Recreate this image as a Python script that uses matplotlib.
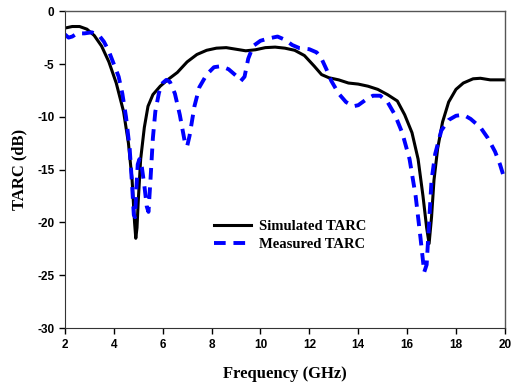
import matplotlib
matplotlib.use('Agg')
import matplotlib.pyplot as plt

plt.rcParams['axes.unicode_minus'] = False

# Simulated TARC
f_sim = [2.0, 2.3, 2.6, 2.9, 3.2, 3.5, 3.8, 4.1, 4.4, 4.6, 4.75, 4.85, 4.9, 4.95, 5.0,
         5.1, 5.25, 5.4, 5.6, 5.9, 6.2, 6.6, 7.0, 7.4, 7.8, 8.2, 8.6, 9.0, 9.4, 9.8,
         10.2, 10.6, 11.0, 11.4, 11.8, 12.2, 12.5, 12.8, 13.2, 13.6, 14.0, 14.4, 14.8,
         15.2, 15.6, 15.9, 16.2, 16.45, 16.65, 16.8, 16.9, 17.0, 17.1, 17.25, 17.45,
         17.7, 18.0, 18.3, 18.7, 19.0, 19.4, 19.8, 20.0]
tarc_sim = [-1.6, -1.45, -1.45, -1.7, -2.3, -3.3, -4.8, -6.8, -9.5, -12.5, -16, -20, -21.5, -20.5, -18,
            -14, -11, -9, -7.9, -7.1, -6.5, -5.8, -4.8, -4.1, -3.7, -3.5, -3.45, -3.6, -3.75, -3.65,
            -3.45, -3.4, -3.5, -3.7, -4.2, -5.2, -6.0, -6.3, -6.5, -6.8, -6.9, -7.1, -7.4,
            -7.9, -8.5, -9.8, -11.5, -14, -17.5, -20.5, -22, -19.5, -16, -13, -10.5,
            -8.6, -7.4, -6.8, -6.4, -6.35, -6.5, -6.5, -6.5]

# Measured TARC
f_meas = [2.0, 2.15, 2.3, 2.5, 2.8, 3.1, 3.4, 3.6, 3.8, 4.0, 4.2, 4.35, 4.5, 4.65, 4.75,
          4.82, 4.87, 4.92, 4.98, 5.05, 5.15, 5.25, 5.35, 5.42, 5.5, 5.6, 5.7, 5.85, 6.0,
          6.15, 6.3, 6.5, 6.7, 6.9, 7.0, 7.1, 7.3, 7.5, 7.8, 8.1, 8.4, 8.7, 9.0, 9.2,
          9.35, 9.5, 9.7, 10.0, 10.3, 10.7, 11.0, 11.3, 11.6, 12.0, 12.3, 12.5, 12.7,
          12.9, 13.2, 13.5, 13.8, 14.0, 14.3, 14.6, 14.9, 15.2, 15.5, 15.8, 16.1, 16.35,
          16.55, 16.7, 16.8, 16.9, 17.0, 17.15, 17.4, 17.7, 18.0, 18.3, 18.6, 19.0, 19.3,
          19.6, 19.8, 20.0]
tarc_meas = [-2.2, -2.5, -2.4, -2.1, -2.1, -2.0, -2.3, -2.9, -3.8, -5.0, -6.2, -7.8, -10, -13, -16.5,
             -19.3, -19.5, -17, -14.5, -14.0, -14.8, -16.5, -18.5, -19.0, -16, -12, -9.5, -7.7, -6.8,
             -6.5, -6.7, -7.8, -9.8, -12.3, -12.8, -11.8, -9.0, -7.2, -6.0, -5.3, -5.2, -5.5, -6.1, -6.6,
             -6.2, -4.5, -3.3, -2.8, -2.6, -2.4, -2.7, -3.2, -3.5, -3.6, -3.9, -4.5, -5.5,
             -6.6, -7.8, -8.6, -9.0, -8.9, -8.4, -8.0, -8.0, -8.6, -9.8, -11.5, -14, -17.5,
             -21.5, -24.7, -24, -20, -16, -13.5, -11.3, -10.3, -9.9, -9.8, -10.2, -11.0, -12.0,
             -13.3, -14.5, -16.0]

xticks = [2, 4, 6, 8, 10, 12, 14, 16, 18, 20]
yticks = [0, -5, -10, -15, -20, -25, -30]

fig = plt.figure(figsize=(5.11, 3.86), dpi=100)
ax = fig.add_axes([0.127, 0.150, 0.861, 0.821])

ax.plot(f_sim, tarc_sim, color='black', lw=2.2, label='Simulated TARC')
ax.plot(f_meas, tarc_meas, color='#0000ff', lw=2.8, dashes=(3, 2), label='Measured TARC')

ax.set_xlim(2, 20)
ax.set_ylim(-30, 0)
ax.set_xticks(xticks)
ax.set_yticks(yticks)
ax.tick_params(direction='out', length=4, width=1, labelsize=8.5)
for lab in ax.get_xticklabels() + ax.get_yticklabels():
    lab.set_fontfamily('Liberation Sans')
    lab.set_fontweight('bold')

for s in ['top', 'right']:
    ax.spines[s].set_color('#555555')
    ax.spines[s].set_linewidth(1)
for s in ['left', 'bottom']:
    ax.spines[s].set_color('#333333')

ax.set_xlabel('Frequency (GHz)', fontfamily='Liberation Serif', fontweight='bold', fontsize=12, labelpad=11)
ax.set_ylabel('TARC (dB)', fontfamily='Liberation Serif', fontweight='bold', fontsize=12, labelpad=7)

ax.legend(loc='center left', bbox_to_anchor=(0.31, 0.293), frameon=False,
          prop={'family': 'Liberation Serif', 'weight': 'bold', 'size': 10.5},
          handlelength=2.5, handletextpad=0.55, labelspacing=0.35)

fig.savefig('out.png', dpi=100)
